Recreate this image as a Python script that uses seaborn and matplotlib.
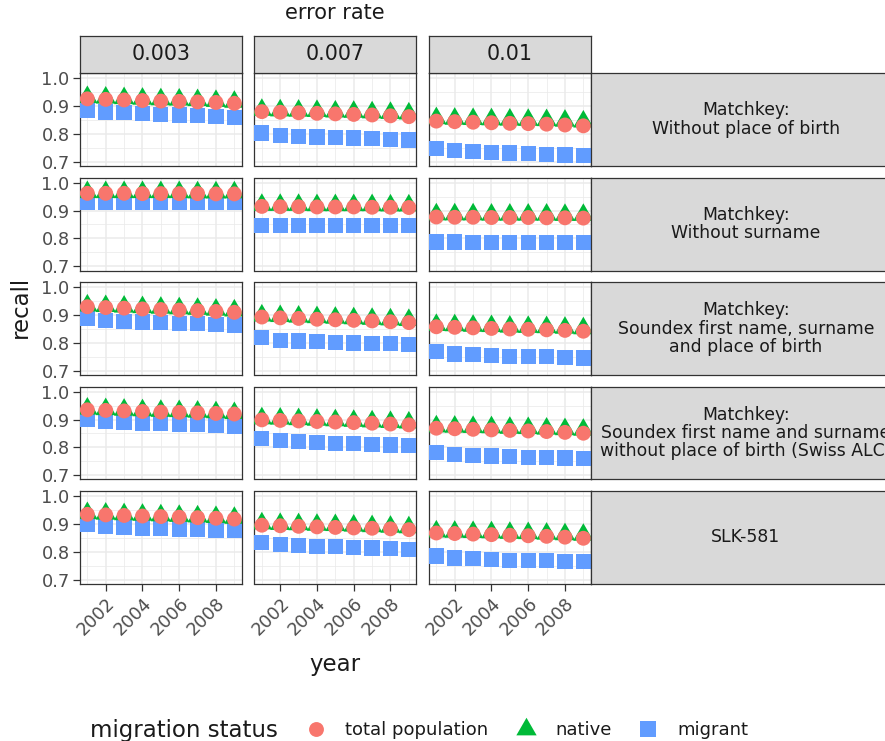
import numpy as np
import pandas as pd
import matplotlib
matplotlib.use("Agg")
import matplotlib.pyplot as plt
from matplotlib.lines import Line2D
from matplotlib.ticker import FormatStrFormatter
import seaborn as sns

# ---------------------------------------------------------------- data
years = list(range(2001, 2010))
error_rates = ["0.003", "0.007", "0.01"]
matchkeys = [
    "Matchkey:\nWithout place of birth",
    "Matchkey:\nWithout surname",
    "Matchkey:\nSoundex first name, surname\nand place of birth",
    "Matchkey:\nSoundex first name and surname\nwithout place of birth (Swiss ALC)",
    "SLK-581",
]
statuses = ["total population", "native", "migrant"]

# recall by year; one list per error rate (0.003, 0.007, 0.01)
total_no_pob = [
    [0.926, 0.924, 0.922, 0.920, 0.918, 0.917, 0.915, 0.913, 0.910],
    [0.880, 0.878, 0.876, 0.874, 0.872, 0.870, 0.868, 0.865, 0.862],
    [0.846, 0.844, 0.842, 0.840, 0.838, 0.837, 0.835, 0.832, 0.829],
]
native_no_pob = [
    [0.932, 0.930, 0.928, 0.926, 0.924, 0.923, 0.921, 0.918, 0.915],
    [0.886, 0.884, 0.883, 0.882, 0.880, 0.879, 0.877, 0.875, 0.873],
    [0.856, 0.854, 0.853, 0.852, 0.851, 0.850, 0.849, 0.847, 0.844],
]
migrant_no_pob = [
    [0.886, 0.879, 0.876, 0.873, 0.870, 0.868, 0.866, 0.863, 0.860],
    [0.803, 0.795, 0.792, 0.789, 0.787, 0.785, 0.783, 0.780, 0.778],
    [0.747, 0.739, 0.736, 0.733, 0.731, 0.729, 0.727, 0.724, 0.721],
]

total_no_surname = [
    [0.962, 0.962, 0.962, 0.961, 0.961, 0.961, 0.961, 0.960, 0.960],
    [0.915, 0.914, 0.914, 0.913, 0.913, 0.913, 0.912, 0.912, 0.911],
    [0.877, 0.876, 0.876, 0.875, 0.875, 0.875, 0.874, 0.874, 0.873],
]
native_no_surname = [
    [0.966, 0.966, 0.966, 0.966, 0.966, 0.966, 0.965, 0.965, 0.965],
    [0.920, 0.920, 0.920, 0.919, 0.919, 0.919, 0.919, 0.918, 0.918],
    [0.886, 0.886, 0.886, 0.885, 0.885, 0.885, 0.885, 0.884, 0.884],
]
migrant_no_surname = [
    [0.930, 0.930, 0.930, 0.930, 0.930, 0.930, 0.930, 0.930, 0.930],
    [0.847, 0.847, 0.846, 0.846, 0.846, 0.846, 0.846, 0.845, 0.845],
    [0.787, 0.787, 0.786, 0.786, 0.786, 0.786, 0.786, 0.785, 0.785],
]

total_soundex_pob = [
    [0.930, 0.927, 0.925, 0.922, 0.920, 0.918, 0.916, 0.913, 0.910],
    [0.893, 0.890, 0.888, 0.885, 0.883, 0.881, 0.879, 0.876, 0.873],
    [0.858, 0.856, 0.854, 0.852, 0.850, 0.849, 0.847, 0.845, 0.842],
]
native_soundex_pob = [
    [0.934, 0.932, 0.930, 0.928, 0.926, 0.924, 0.922, 0.919, 0.916],
    [0.898, 0.896, 0.894, 0.892, 0.890, 0.888, 0.886, 0.884, 0.882],
    [0.864, 0.863, 0.861, 0.860, 0.858, 0.857, 0.856, 0.854, 0.852],
]
migrant_soundex_pob = [
    [0.889, 0.881, 0.878, 0.875, 0.873, 0.871, 0.869, 0.867, 0.864],
    [0.818, 0.810, 0.807, 0.804, 0.802, 0.800, 0.799, 0.797, 0.795],
    [0.768, 0.760, 0.757, 0.754, 0.752, 0.751, 0.750, 0.748, 0.746],
]

total_soundex_alc = [
    [0.935, 0.933, 0.931, 0.929, 0.927, 0.926, 0.924, 0.922, 0.920],
    [0.899, 0.897, 0.895, 0.893, 0.891, 0.889, 0.887, 0.884, 0.881],
    [0.869, 0.867, 0.865, 0.863, 0.861, 0.859, 0.857, 0.854, 0.851],
]
native_soundex_alc = [
    [0.939, 0.937, 0.935, 0.933, 0.931, 0.930, 0.928, 0.926, 0.923],
    [0.904, 0.903, 0.901, 0.899, 0.897, 0.895, 0.893, 0.891, 0.889],
    [0.875, 0.874, 0.873, 0.872, 0.870, 0.869, 0.867, 0.865, 0.863],
]
migrant_soundex_alc = [
    [0.902, 0.894, 0.891, 0.888, 0.886, 0.884, 0.882, 0.880, 0.877],
    [0.832, 0.824, 0.820, 0.817, 0.815, 0.813, 0.811, 0.809, 0.806],
    [0.783, 0.775, 0.772, 0.769, 0.767, 0.765, 0.764, 0.762, 0.760],
]

total_slk581 = [
    [0.935, 0.933, 0.931, 0.929, 0.927, 0.925, 0.923, 0.921, 0.918],
    [0.896, 0.894, 0.892, 0.890, 0.888, 0.886, 0.885, 0.883, 0.880],
    [0.868, 0.866, 0.864, 0.862, 0.860, 0.858, 0.856, 0.853, 0.849],
]
native_slk581 = [
    [0.939, 0.937, 0.935, 0.933, 0.931, 0.929, 0.927, 0.925, 0.922],
    [0.902, 0.900, 0.899, 0.897, 0.896, 0.894, 0.892, 0.890, 0.888],
    [0.873, 0.872, 0.871, 0.870, 0.868, 0.867, 0.865, 0.863, 0.861],
]
migrant_slk581 = [
    [0.899, 0.892, 0.889, 0.886, 0.884, 0.882, 0.880, 0.878, 0.876],
    [0.834, 0.826, 0.823, 0.820, 0.818, 0.816, 0.814, 0.812, 0.809],
    [0.785, 0.778, 0.775, 0.772, 0.770, 0.769, 0.768, 0.766, 0.765],
]

series = {
    matchkeys[0]: (total_no_pob, native_no_pob, migrant_no_pob),
    matchkeys[1]: (total_no_surname, native_no_surname, migrant_no_surname),
    matchkeys[2]: (total_soundex_pob, native_soundex_pob, migrant_soundex_pob),
    matchkeys[3]: (total_soundex_alc, native_soundex_alc, migrant_soundex_alc),
    matchkeys[4]: (total_slk581, native_slk581, migrant_slk581),
}

rows = []
for mk, per_status in series.items():
    for status, grid in zip(statuses, per_status):
        for er, vals in zip(error_rates, grid):
            for yr, v in zip(years, vals):
                rows.append((mk, er, status, yr, v))
df = pd.DataFrame(rows, columns=["matchkey", "error_rate", "status", "year", "recall"])
# migrants drawn first, total population on top
draw_rank = {"migrant": 0, "native": 1, "total population": 2}
df = df.sort_values("status", key=lambda s: s.map(draw_rank), kind="stable")

# ---------------------------------------------------------------- styling
plt.rcParams["font.family"] = ["DejaVu Sans"]

palette = {"total population": "#F8766D", "native": "#00BA38", "migrant": "#619CFF"}
tri = np.array([[0.0, 1.555], [-1.347, -0.778], [1.347, -0.778], [0.0, 1.555]])
markers = {"total population": "o", "native": tri, "migrant": "s"}
sizes = {"total population": 115, "native": 285, "migrant": 120}

GRID = "#EBEBEB"
DARK = "#333333"
STRIP = "#D9D9D9"
TICKTXT = "#4D4D4D"
TXT = "#1A1A1A"

W, H, DPI = 885, 741, 100
fig = plt.figure(figsize=(W / DPI, H / DPI), dpi=DPI, facecolor="white")


def px_axes(left, top, width, height):
    return fig.add_axes([left / W, 1 - (top + height) / H, width / W, height / H])


col_left = [80.0, 254.5, 429.0]
panel_w = 161.7
row_top = [73.0, 177.5, 282.0, 386.5, 491.0]
panel_h = 93.0

for i, mk in enumerate(matchkeys):
    for j, er in enumerate(error_rates):
        ax = px_axes(col_left[j], row_top[i], panel_w, panel_h)
        sub = df[(df["matchkey"] == mk) & (df["error_rate"] == er)]
        sns.scatterplot(
            data=sub, x="year", y="recall",
            hue="status", style="status", size="status",
            hue_order=statuses, style_order=statuses, size_order=statuses,
            palette=palette, markers=markers, sizes=sizes,
            linewidth=0, edgecolor="none", legend=False, ax=ax, zorder=3,
        )
        ax.set_xlim(2000.6, 2009.4)
        ax.set_ylim(0.6846, 1.0189)
        ax.set_xticks([2002, 2004, 2006, 2008])
        ax.set_xticks([2001, 2003, 2005, 2007, 2009], minor=True)
        ax.set_yticks([0.7, 0.8, 0.9, 1.0])
        ax.set_yticks([0.75, 0.85, 0.95], minor=True)
        ax.set_axisbelow(True)
        ax.grid(which="major", color=GRID, linewidth=1.1)
        ax.grid(which="minor", color=GRID, linewidth=0.55)
        ax.set_facecolor("white")
        for sp in ax.spines.values():
            sp.set_color(DARK)
            sp.set_linewidth(0.9)
        ax.set_xlabel("")
        ax.set_ylabel("")
        ax.tick_params(which="minor", length=0)
        ax.tick_params(which="major", length=5.2, width=0.9, color=DARK,
                       labelcolor=TICKTXT, labelsize=12.8, pad=2.2)
        if j == 0:
            ax.yaxis.set_major_formatter(FormatStrFormatter("%.1f"))
        else:
            ax.tick_params(axis="y", which="major", length=0, labelleft=False)
        if i == len(matchkeys) - 1:
            ax.set_xticklabels(["2002", "2004", "2006", "2008"], rotation=45,
                               ha="right", va="top", rotation_mode="anchor")
        else:
            ax.tick_params(axis="x", which="major", length=0, labelbottom=False)

# column strips (error rate)
for j, er in enumerate(error_rates):
    sax = px_axes(col_left[j], 36.0, panel_w, 37.0)
    sax.set_facecolor(STRIP)
    sax.set_xticks([])
    sax.set_yticks([])
    for sp in sax.spines.values():
        sp.set_color(DARK)
        sp.set_linewidth(0.9)
    sax.text(0.5, 0.5, er, ha="center", va="center", fontsize=14.8, color=TXT,
             transform=sax.transAxes)

# row strips (matchkey); they run past the right edge of the figure
for i, mk in enumerate(matchkeys):
    sax = px_axes(590.7, row_top[i], 310.0, panel_h)
    sax.set_facecolor(STRIP)
    sax.set_xticks([])
    sax.set_yticks([])
    for sp in sax.spines.values():
        sp.set_color(DARK)
        sp.set_linewidth(0.9)
    sax.text(0.5, 0.5, mk, ha="center", va="center", ma="center", fontsize=12.4,
             color=TXT, linespacing=1.02, transform=sax.transAxes)

# titles
fig.text(335 / W, 1 - 13 / H, "error rate", ha="center", va="center",
         fontsize=15, color=TXT)
fig.text(335 / W, 1 - 664 / H, "year", ha="center", va="center",
         fontsize=16.5, color=TXT)
fig.text(20 / W, 1 - 307 / H, "recall", ha="center", va="center", rotation=90,
         fontsize=16.5, color=TXT)

# legend
fig.text(90 / W, 1 - 730 / H, "migration status", ha="left", va="center",
         fontsize=16.5, color=TXT)
handles = [
    Line2D([], [], linestyle="none", marker="o", markersize=10.7,
           markerfacecolor=palette["total population"], markeredgewidth=0),
    Line2D([], [], linestyle="none", marker=tri, markersize=16.9,
           markerfacecolor=palette["native"], markeredgewidth=0),
    Line2D([], [], linestyle="none", marker="s", markersize=10.9,
           markerfacecolor=palette["migrant"], markeredgewidth=0),
]
fig.legend(handles, statuses, loc="center left",
           bbox_to_anchor=(307 / W, 1 - 730 / H), ncol=3, frameon=False,
           fontsize=13, handlelength=1.0, handletextpad=1.13,
           columnspacing=1.55, borderpad=0, borderaxespad=0,
           labelcolor=TXT)

fig.savefig("out.png", dpi=DPI, facecolor="white")
